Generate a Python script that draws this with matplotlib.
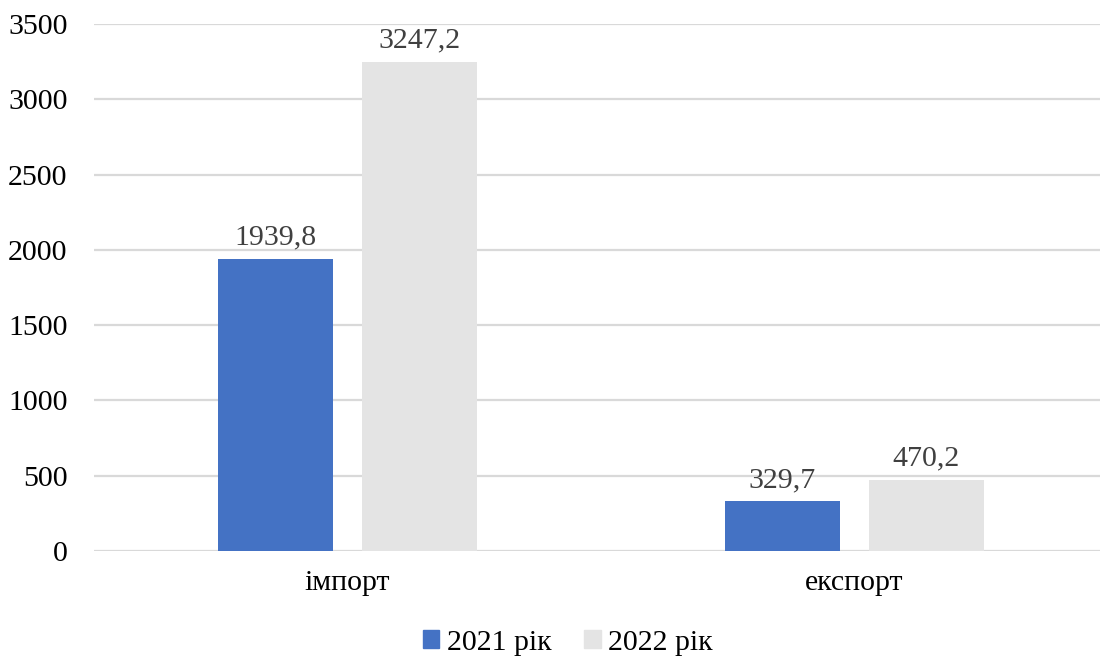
import matplotlib
matplotlib.use("Agg")
import matplotlib.pyplot as plt
import numpy as np
from matplotlib.patches import Patch

categories = ["імпорт", "експорт"]
series_names = ["2021 рік", "2022 рік"]
values_2021 = [1939.8, 329.7]
values_2022 = [3247.2, 470.2]
colors = ["#4472C4", "#E4E4E4"]
yticks = [0, 500, 1000, 1500, 2000, 2500, 3000, 3500]

plt.rcParams['font.family'] = ['Liberation Serif', 'DejaVu Serif']

FS = 21.5
fig = plt.figure(figsize=(11, 6.6), dpi=100)
W, H = 1100, 660
ax = fig.add_axes([94 / W, 109 / H, 1014 / W, (551 - 24) / H])

x = np.arange(len(categories))
bw = 0.225
off = 0.142
b1 = ax.bar(x - off, values_2021, bw, color=colors[0], zorder=3)
b2 = ax.bar(x + off, values_2022, bw, color=colors[1], zorder=3)

def fmt(v):
    return f"{v:.1f}".replace(".", ",")

for bars, vals in ((b1, values_2021), (b2, values_2022)):
    for r, v in zip(bars, vals):
        ax.annotate(fmt(v), (r.get_x() + r.get_width() / 2, v), xytext=(0, 6),
                    textcoords="offset points", ha="center", va="bottom",
                    fontsize=FS, color="#404040")

ax.set_xlim(-0.5, 1.5)
ax.set_ylim(0, 3500)
ax.set_yticks(yticks)
ax.set_yticklabels([str(t) for t in yticks], fontsize=FS)
ax.set_xticks(x)
ax.set_xticklabels(categories, fontsize=FS)
ax.tick_params(axis='both', length=0, colors="#000000")
ax.tick_params(axis='y', pad=19)
ax.tick_params(axis='x', pad=14)
ax.grid(axis='y', color="#D9D9D9", linewidth=1.6, zorder=0)
ax.set_axisbelow(True)
for s in ax.spines.values():
    s.set_visible(False)

handles = [Patch(color=c) for c in colors]
fig.legend(handles, series_names, loc='center', bbox_to_anchor=(568 / W, 1 - 643 / H),
           ncol=2, frameon=False, fontsize=FS, handlelength=0.55, handleheight=0.55,
           handletextpad=0.25, columnspacing=1.1)

fig.savefig("out.png", dpi=100)
